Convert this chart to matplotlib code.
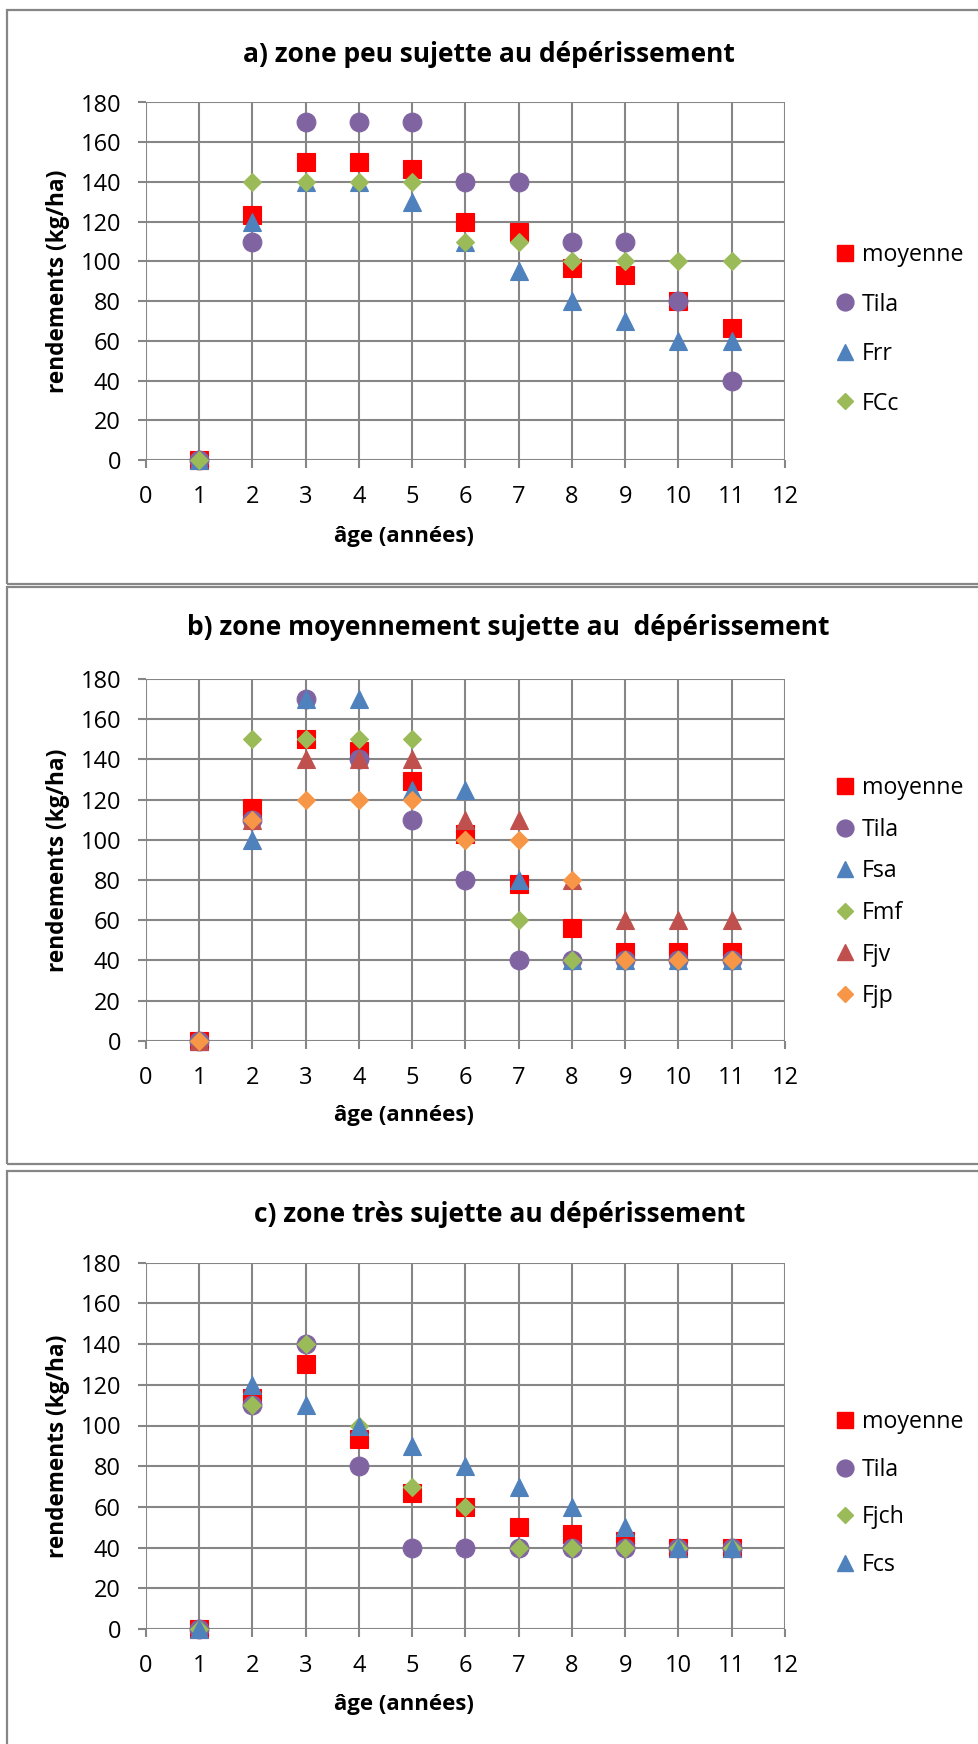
#!/usr/bin/env python3
"""Rendements (kg/ha) selon l'âge, trois zones de dépérissement."""
import matplotlib

matplotlib.use("Agg")
import matplotlib.pyplot as plt
from matplotlib.lines import Line2D
from matplotlib.patches import Rectangle

W, H = 979, 1744

AGES = [1, 2, 3, 4, 5, 6, 7, 8, 9, 10, 11]

# a) zone peu sujette
a_moyenne = [0, 123.3, 150, 150, 146.7, 120, 115, 96.7, 93.3, 80, 66.7]
a_tila = [0, 110, 170, 170, 170, 140, 140, 110, 110, 80, 40]
a_frr = [0, 120, 140, 140, 130, 110, 95, 80, 70, 60, 60]
a_fcc = [0, 140, 140, 140, 140, 110, 110, 100, 100, 100, 100]

# b) zone moyennement sujette
b_moyenne = [0, 116, 150, 144, 129, 103, 78, 56, 44, 44, 44]
b_tila = [0, 110, 170, 140, 110, 80, 40, 40, 40, 40, 40]
b_fsa = [0, 100, 170, 170, 125, 125, 80, 40, 40, 40, 40]
b_fmf = [0, 150, 150, 150, 150, 100, 60, 40, 40, 40, 40]
b_fjv = [0, 110, 140, 140, 140, 110, 110, 80, 60, 60, 60]
b_fjp = [0, 110, 120, 120, 120, 100, 100, 80, 40, 40, 40]

# c) zone très sujette
c_moyenne = [0, 113.3, 130, 93.3, 66.7, 60, 50, 46.7, 43.3, 40, 40]
c_tila = [0, 110, 140, 80, 40, 40, 40, 40, 40, 40, 40]
c_fjch = [0, 110, 140, 100, 70, 60, 40, 40, 40, 40, 40]
c_fcs = [0, 120, 110, 100, 90, 80, 70, 60, 50, 40, 40]

TITLES = [
    "a) zone peu sujette au dépérissement",
    "b) zone moyennement sujette au  dépérissement",
    "c) zone très sujette au dépérissement",
]

RED = "#FF0000"
PURPLE = "#8064A2"
BLUE = "#4F81BD"
GREEN = "#9BBB59"
DARKRED = "#C0504D"
ORANGE = "#F79646"
GRID = "#868686"

STYLE = {
    "moyenne": ("s", RED, 13.5),
    "Tila": ("o", PURPLE, 13.5),
    "tri_blue": ("^", BLUE, 13.5),
    "dia_green": ("D", GREEN, 9),
    "tri_red": ("^", DARKRED, 13.5),
    "dia_orange": ("D", ORANGE, 9),
}

FONT = "Open Sans"


def fx(px):
    return px / W


def fy(py):
    return 1 - py / H


def draw_panel(fig, spec, series):
    ax = fig.add_axes([fx(146), fy(spec["y0"]), fx(785) - fx(146),
                       (spec["y0"] - spec["y180"]) / H])
    ax.set_xlim(0, 12)
    ax.set_ylim(0, 180)
    ax.set_xticks(range(0, 13))
    ax.set_yticks(range(0, 181, 20))
    ax.grid(True, color=GRID, linewidth=1.5)
    ax.set_axisbelow(True)
    for s in ax.spines.values():
        s.set_visible(False)
    ax.tick_params(axis="both", length=6, width=1.5, color=GRID,
                   labelsize=17, pad=12)
    for lab in ax.get_xticklabels() + ax.get_yticklabels():
        lab.set_fontfamily(FONT)

    handles = []
    for label, key, vals in series:
        mk, col, ms = STYLE[key]
        ax.plot(AGES, vals, linestyle="none", marker=mk, color=col,
                markersize=ms, markeredgecolor=col, markeredgewidth=0.8,
                clip_on=False, zorder=3, label=label)
        handles.append(Line2D([], [], linestyle="none", marker=mk, color=col,
                              markersize=ms * 0.9, markeredgecolor=col))

    fig.text(spec["tx"] / W, fy(spec["ty"]), spec["title"], ha="center",
             va="center", fontsize=19, fontweight="bold", family=FONT)
    fig.text(fx(404), fy(spec["xl"]), "âge (années)", ha="center",
             va="center", fontsize=16, fontweight="bold", family=FONT)
    fig.text(fx(58), fy((spec["y0"] + spec["y180"]) / 2), "rendements (kg/ha)",
             ha="center", va="center", rotation=90, fontsize=16.3,
             fontweight="bold", family=FONT)

    fig.legend(handles, [s[0] for s in series], loc="upper left",
               bbox_to_anchor=(fx(836), fy(spec["leg_top"])),
               frameon=False, handlelength=0.8, handletextpad=0.3,
               borderpad=0, borderaxespad=0,
               labelspacing=spec["lsp"], prop={"family": FONT, "size": 16.7})


def main():
    fig = plt.figure(figsize=(W / 100, H / 100), dpi=100)

    for top, bottom in ((10, 584), (587, 1164), (1171, 1760)):
        fig.add_artist(Rectangle((fx(7), fy(bottom)), fx(1000) - fx(7),
                                 (bottom - top) / H, transform=fig.transFigure,
                                 fill=False, edgecolor=GRID, linewidth=1.6))

    panels = [
        (dict(y0=460, y180=102.5, tx=489, ty=55, xl=536, leg_top=243, lsp=1.1,
              title=TITLES[0]),
         [("moyenne", "moyenne", a_moyenne), ("Tila", "Tila", a_tila),
          ("Frr", "tri_blue", a_frr), ("FCc", "dia_green", a_fcc)]),
        (dict(y0=1040.7, y180=679, tx=508, ty=627, xl=1116, leg_top=776,
              lsp=0.76, title=TITLES[1]),
         [("moyenne", "moyenne", b_moyenne), ("Tila", "Tila", b_tila),
          ("Fsa", "tri_blue", b_fsa), ("Fmf", "dia_green", b_fmf),
          ("Fjv", "tri_red", b_fjv), ("Fjp", "dia_orange", b_fjp)]),
        (dict(y0=1629, y180=1262.7, tx=500, ty=1215, xl=1704, leg_top=1410,
              lsp=1.02, title=TITLES[2]),
         [("moyenne", "moyenne", c_moyenne), ("Tila", "Tila", c_tila),
          ("Fjch", "dia_green", c_fjch), ("Fcs", "tri_blue", c_fcs)]),
    ]
    for spec, series in panels:
        draw_panel(fig, spec, series)

    fig.savefig("out.png", dpi=100)
    plt.close(fig)


if __name__ == "__main__":
    main()
